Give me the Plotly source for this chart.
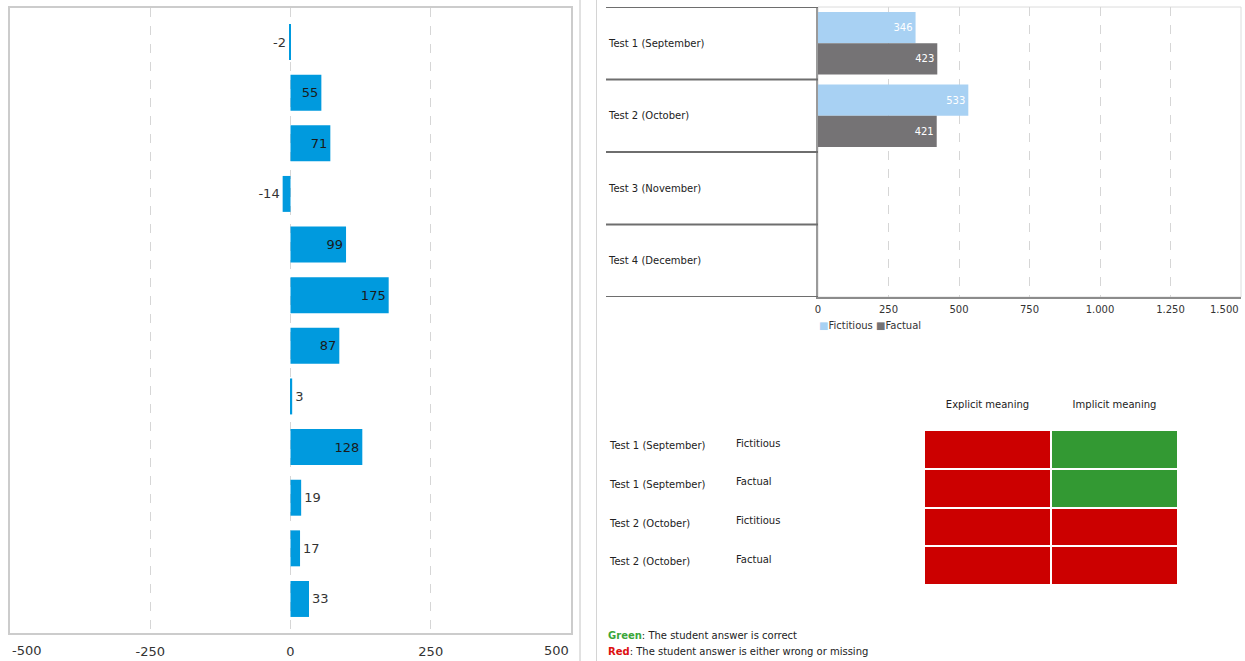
import plotly.graph_objects as go

W, H = 1245, 661
FONT = "DejaVu Sans"

# ---------------- data ----------------
diff_rows = list(range(12))
diff_values = [-2, 55, 71, -14, 99, 175, 87, 3, 128, 19, 17, 33]
diff_ticks = [-250, 0, 250]
diff_end_ticks = [-500, 500]

tests = ["Test 1 (September)", "Test 2 (October)", "Test 3 (November)", "Test 4 (December)"]
test_idx = [0, 1, 2, 3]
series_names = ["Fictitious", "Factual"]
series_colors = ["#a8d1f3", "#757375"]
fictitious = [346, 533, None, None]
factual = [423, 421, None, None]
score_ticks = [0, 250, 500, 750, 1000, 1250]
score_ticktext = ["0", "250", "500", "750", "1.000", "1.250"]
score_end_tick = 1500
score_end_text = "1.500"

heat_cols = ["Explicit meaning", "Implicit meaning"]
heat_row_test = ["Test 1 (September)", "Test 1 (September)", "Test 2 (October)", "Test 2 (October)"]
heat_row_kind = ["Fictitious", "Factual", "Fictitious", "Factual"]
heat_z = [[0, 1], [0, 1], [0, 0], [0, 0]]  # 1 = correct (green), 0 = wrong/missing (red)


def px(x):
    return x / W


def py(y):
    return 1 - y / H


fig = go.Figure()

# ---------- left: difference bars ----------
fig.add_trace(go.Bar(
    x=diff_values, y=diff_rows, orientation="h", xaxis="x", yaxis="y",
    marker=dict(color="#009ade", line=dict(width=0)),
    width=0.71,
    text=[str(v) for v in diff_values], textposition="auto",
    insidetextanchor="end",
    insidetextfont=dict(family=FONT, size=13, color="#1a1a1a"),
    outsidetextfont=dict(family=FONT, size=13, color="#333333"),
    cliponaxis=False, showlegend=False, hoverinfo="skip",
))

# ---------- right top: scores ----------
for name, color, vals in zip(series_names, series_colors, [fictitious, factual]):
    fig.add_trace(go.Bar(
        name=name, x=vals, y=test_idx, orientation="h",
        xaxis="x2", yaxis="y2", marker=dict(color=color, line=dict(width=0)),
        text=[("" if v is None else str(v)) for v in vals],
        textposition="inside", insidetextanchor="end",
        insidetextfont=dict(family=FONT, size=10, color="#ffffff"),
        hoverinfo="skip", showlegend=False,
    ))

# ---------- right bottom: heat grid ----------
fig.add_trace(go.Heatmap(
    z=heat_z, x=heat_cols, y=list(range(len(heat_row_test))),
    xaxis="x3", yaxis="y3",
    colorscale=[[0, "#cc0000"], [0.5, "#cc0000"], [0.5, "#339933"], [1, "#339933"]],
    zmin=0, zmax=1, showscale=False, xgap=2, ygap=2, hoverinfo="skip",
))

annotations = []
# end tick labels of left axis
annotations.append(dict(x=diff_end_ticks[0], xref="x", y=py(650), yref="paper",
                        text=str(diff_end_ticks[0]), showarrow=False, xanchor="left",
                        yanchor="middle", font=dict(family=FONT, size=13, color="#333")))
annotations.append(dict(x=diff_end_ticks[1], xref="x", y=py(650), yref="paper",
                        text=str(diff_end_ticks[1]), showarrow=False, xanchor="right",
                        yanchor="middle", font=dict(family=FONT, size=13, color="#333")))
# end tick label of score axis
annotations.append(dict(x=score_end_tick, xref="x2", y=py(309), yref="paper",
                        text=score_end_text, showarrow=False, xanchor="right",
                        yanchor="middle", font=dict(family=FONT, size=10, color="#333")))
# legend of score chart (compact, as in the original)
legend_text = "".join(
    f"<span style='color:{c}'>■</span>{n} " for n, c in zip(series_names, series_colors)
).strip()
annotations.append(dict(x=px(817), xref="paper", y=py(326), yref="paper", text=legend_text,
                        showarrow=False, xanchor="left", yanchor="middle",
                        font=dict(family=FONT, size=10, color="#333")))
# category labels for score chart
for i, t in zip(test_idx, tests):
    annotations.append(dict(x=px(606), xref="paper", y=i, yref="y2", text=t,
                            showarrow=False, xanchor="left", yanchor="middle",
                            font=dict(family=FONT, size=10, color="#222")))
# row labels for heat grid
for i, (t, k) in enumerate(zip(heat_row_test, heat_row_kind)):
    annotations.append(dict(x=px(607), xref="paper", y=i - 0.1, yref="y3", text=t,
                            showarrow=False, xanchor="left", yanchor="middle",
                            font=dict(family=FONT, size=10, color="#222")))
    annotations.append(dict(x=px(734), xref="paper", y=i - 0.16, yref="y3", text=k,
                            showarrow=False, xanchor="left", yanchor="middle",
                            font=dict(family=FONT, size=10, color="#222")))
# footnotes
annotations.append(dict(x=px(606), xref="paper", y=py(635), yref="paper",
                        text="<b><span style='color:#3aa63a'>Green</span></b>: The student answer is correct",
                        showarrow=False, xanchor="left", yanchor="middle",
                        font=dict(family=FONT, size=10, color="#222")))
annotations.append(dict(x=px(606), xref="paper", y=py(651), yref="paper",
                        text="<b><span style='color:#dd1111'>Red</span></b>: The student answer is either wrong or missing",
                        showarrow=False, xanchor="left", yanchor="middle",
                        font=dict(family=FONT, size=10, color="#222")))

shapes = []
# panel separators
shapes.append(dict(type="line", xref="paper", yref="paper", x0=px(580), x1=px(580), y0=0, y1=1,
                   line=dict(color="#c4c4c4", width=1)))
shapes.append(dict(type="line", xref="paper", yref="paper", x0=px(596.5), x1=px(596.5), y0=0, y1=1,
                   line=dict(color="#d4d4d4", width=1)))
# score chart frame (light) top/right
shapes.append(dict(type="rect", xref="x2 domain", yref="y2 domain", x0=0, x1=1, y0=0, y1=1,
                   line=dict(color="#dcdcdc", width=1), layer="below"))
# category separator lines in label column
for b in [-0.5, 0.5, 1.5, 2.5, 3.5]:
    shapes.append(dict(type="line", xref="paper", yref="y2", x0=px(606), x1=px(818), y0=b, y1=b,
                       line=dict(color="#6e6e6e", width=2)))

fig.update_layout(
    width=W, height=H, margin=dict(l=0, r=0, t=0, b=0, autoexpand=False),
    paper_bgcolor="white", plot_bgcolor="white",
    font=dict(family=FONT, size=10, color="#333"),
    barmode="group", bargap=0.14, bargroupgap=0,
    annotations=annotations, shapes=shapes, showlegend=False,
    xaxis=dict(domain=[px(10), px(571)], range=[-500, 500], tickvals=diff_ticks, anchor="y",
               ticktext=[str(v) for v in diff_ticks], showgrid=True, griddash="dash",
               gridcolor="#d6d6d6", gridwidth=1, zeroline=False, showline=True, mirror=True,
               linecolor="#cccccc", linewidth=2, ticks="", ticklabelstandoff=5,
               tickfont=dict(family=FONT, size=13, color="#333"), fixedrange=True,
               automargin=False),
    yaxis=dict(domain=[py(633), py(8)], range=[11.672, -0.672], showticklabels=False, anchor="x",
               showgrid=False, zeroline=False, showline=True, mirror=True,
               linecolor="#cccccc", linewidth=2, ticks="", fixedrange=True, automargin=False),
    xaxis2=dict(domain=[px(818), px(1241)], range=[0, 1500], tickvals=score_ticks, anchor="y2",
                ticktext=score_ticktext, showgrid=True, griddash="dash", gridcolor="#d6d6d6",
                zeroline=False, showline=True, linecolor="#8c8c8c", linewidth=2, ticks="",
                ticklabelstandoff=2,
                tickfont=dict(family=FONT, size=10, color="#333"), fixedrange=True,
                automargin=False),
    yaxis2=dict(domain=[py(297), py(7)], range=[3.5, -0.5], showticklabels=False, anchor="x2",
                showgrid=False, zeroline=False, showline=True, linecolor="#9a9a9a",
                linewidth=1.5, ticks="", fixedrange=True, automargin=False),
    xaxis3=dict(domain=[px(924), px(1178)], side="top", showgrid=False, zeroline=False,
                anchor="y3", ticks="", ticklabelstandoff=19,
                tickfont=dict(family=FONT, size=10, color="#222"),
                fixedrange=True, automargin=False),
    yaxis3=dict(domain=[py(585), py(430)], range=[3.5, -0.5], showticklabels=False, anchor="x3",
                showgrid=False, zeroline=False, ticks="", fixedrange=True, automargin=False),
)

fig.write_html("out.html")
